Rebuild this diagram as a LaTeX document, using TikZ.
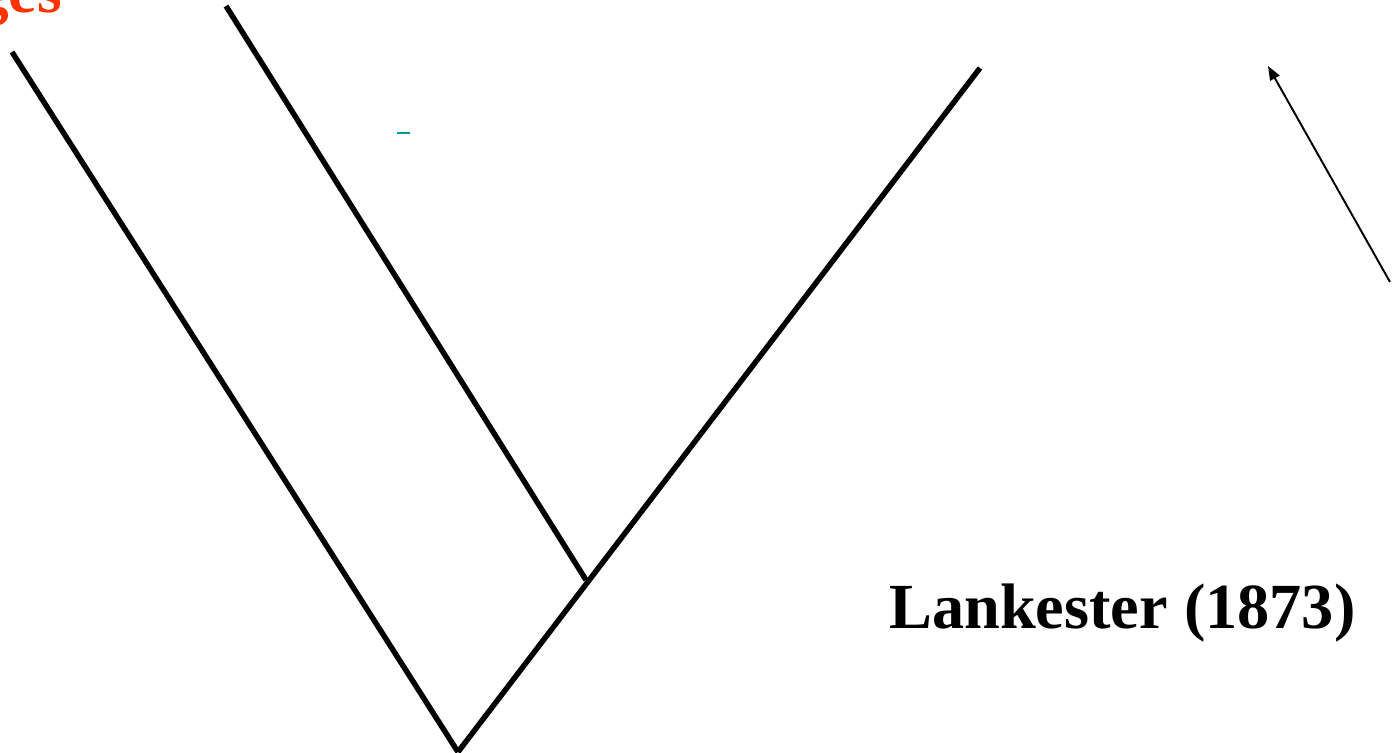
\documentclass[tikz,border=0pt]{standalone}
\usepackage{fontspec}
\setmainfont{Liberation Serif}
\usepackage{xcolor}
\usetikzlibrary{arrows.meta,positioning}
\definecolor{vermil}{HTML}{FF3300}
\definecolor{teal}{HTML}{009999}
\tikzset{
  branch/.style={draw=black, line width=3.1pt},
  pointer/.style={-{Triangle[length=8pt,width=6pt]}, draw=black, line width=1.1pt},
  tick/.style={draw=teal, line width=1.1pt},
  title/.style={font=\fontsize{36.6}{40}\selectfont\bfseries, inner sep=0pt},
  clade/.style={font=\fontsize{36}{40}\selectfont\bfseries, text=vermil, inner sep=0pt},
}
\begin{document}
\begin{tikzpicture}[x=0.02cm,y=-0.02cm]
\useasboundingbox (0,0) rectangle (1394,753);

% tree points
\coordinate (root)  at (458,752);
\coordinate (fork)  at (586,580);
\coordinate (leafA) at (12,52);
\coordinate (leafB) at (226,6);
\coordinate (leafC) at (980,68);

\draw[branch] (root) -- (leafA);
\draw[branch] (fork) -- (leafB);
\draw[branch] (root) -- (leafC);

% stray mark and arrow
\coordinate (tickL) at (397,133);
\coordinate (tickR) at (410,133);
\draw[tick] (tickL) -- (tickR);

\coordinate (ptail) at (1390,282);
\coordinate (phead) at (1268,66);
\draw[pointer] (ptail) -- (phead);

% labels
\node[clade, anchor=base east] (cut) at (62,13) {ges};
\node[title, anchor=base west] (who) at (889,628) {Lankester (1873)};
\end{tikzpicture}
\end{document}
